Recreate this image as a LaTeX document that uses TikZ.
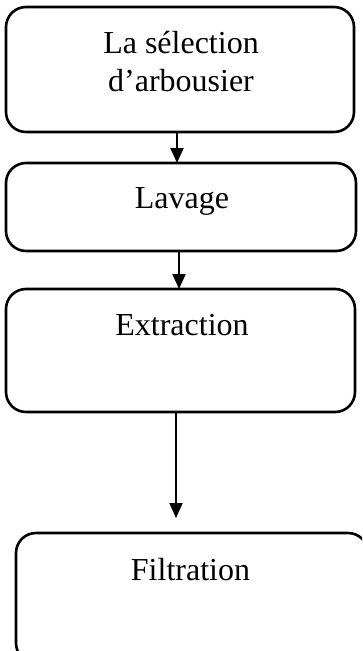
\documentclass[tikz,border=0pt]{standalone}
\usepackage{fontspec}
\setmainfont{Liberation Serif}
\usetikzlibrary{arrows.meta}
\begin{document}
\begin{tikzpicture}[x=1pt,y=-1pt,
  stepbox/.style={draw=black, line width=2.6pt, rounded corners=20pt,
    inner sep=0pt, outer sep=0pt},
  label/.style={font=\fontsize{32}{38}\selectfont, inner sep=0pt, anchor=base},
  arr/.style={line width=2pt, -{Triangle[width=13pt,length=15pt]}}]
  \useasboundingbox (0,0) rectangle (362,651);
  \begin{scope}
    \clip (0,0) rectangle (362,651);
    % process boxes
    \node[stepbox, minimum width=348pt, minimum height=125pt] (b1) at (180,69.5) {};
    \node[stepbox, minimum width=350pt, minimum height=88pt] (b2) at (181,207) {};
    \node[stepbox, minimum width=349pt, minimum height=123pt] (b3) at (180.5,350.5) {};
    \node[stepbox, minimum width=352pt, minimum height=130pt] (b4) at (192,598) {};
  \end{scope}
  % box texts
  \node[label] (t1a) at (181,53) {La sélection};
  \node[label] (t1b) at (181,91) {d’arbousier};
  \node[label] (t2) at (182,208) {Lavage};
  \node[label] (t3) at (182,335) {Extraction};
  \node[label] (t4) at (190.5,580) {Filtration};
  % connectors
  \coordinate (x1) at (177,0);
  \coordinate (x2) at (179,0);
  \coordinate (x3) at (176,0);
  \coordinate (e3) at (176,518);
  \draw[arr] (b1.south -| x1) -- (b2.north -| x1);
  \draw[arr] (b2.south -| x2) -- (b3.north -| x2);
  \draw[arr] (b3.south -| x3) -- (e3);
\end{tikzpicture}
\end{document}
